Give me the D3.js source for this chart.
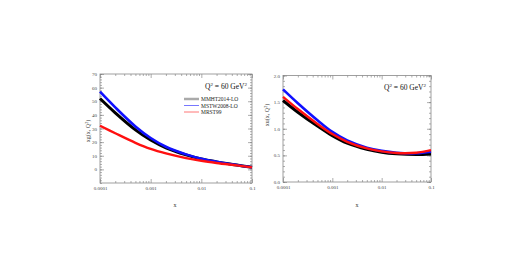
<!DOCTYPE html>
<html>
<head>
<meta charset="utf-8">
<script src="https://cdn.jsdelivr.net/npm/d3@7"></script>
<style>
  body { margin: 0; background: #fff; }
  text { font-family: "Liberation Serif", "DejaVu Serif", serif; }
</style>
</head>
<body>
<div id="chart"></div>
<script>
const width = 510;
const height = 270;

// x grid shared by all curves
const xValues = [0.0001, 0.0002, 0.0005, 0.001, 0.002, 0.005, 0.01, 0.02, 0.05, 0.1];
const xTickValues = [0.0001, 0.001, 0.01, 0.1];
const xTickLabels = ["0.0001", "0.001", "0.01", "0.1"];

// xg(x, Q^2)
const gluonMMHT = [52, 41.5, 29, 21.5, 15.8, 10.6, 7.6, 5.5, 3.2, 1.5];
const gluonMSTW = [57, 45.5, 31.5, 23, 16.6, 11, 7.8, 5.6, 3.2, 1.5];
const gluonMRST = [32, 26.5, 19.5, 15, 11.7, 8.3, 6.3, 4.7, 2.9, 1.5];
const gluonTicks = [0, 10, 20, 30, 40, 50, 60, 70];

// xu(x, Q^2)
const upMMHT = [1.53, 1.31, 1.05, 0.87, 0.73, 0.615, 0.56, 0.53, 0.515, 0.525];
const upMSTW = [1.74, 1.48, 1.16, 0.94, 0.78, 0.645, 0.585, 0.55, 0.54, 0.57];
const upMRST = [1.60, 1.37, 1.09, 0.90, 0.755, 0.63, 0.575, 0.545, 0.55, 0.60];
const upTicks = [0, 0.5, 1.0, 1.5, 2.0];

const seriesNames = ["MMHT2014-LO", "MSTW2008-LO", "MRST99"];
const seriesColors = ["#000000", "#1010ff", "#ff1010"];

const svg = d3.select("#chart")
  .append("svg")
  .attr("width", width)
  .attr("height", height);

function drawPanel(opt) {
  const x = d3.scaleLog()
    .domain([0.0001, 0.1])
    .range([opt.left, opt.right]);

  const y = d3.scaleLinear()
    .domain(opt.yDomain)
    .range([opt.bottom, opt.top]);

  const g = svg.append("g");

  // minor x ticks
  const minorX = [];
  [0.0001, 0.001, 0.01].forEach(function(d) {
    for (let k = 2; k <= 9; k++) minorX.push(d * k);
  });

  const minorY = d3.range(opt.yDomain[0], opt.yDomain[1] + 1e-9, opt.yMinor);

  function styleAxis(sel) {
    sel.select(".domain").remove();
    sel.selectAll("line").attr("stroke", "#777").attr("stroke-width", 0.6);
    sel.selectAll("text")
      .style("font-family", "Liberation Serif, serif")
      .style("font-size", "5px")
      .attr("fill", "#444");
  }

  // bottom
  g.append("g")
    .attr("transform", `translate(0, ${opt.bottom})`)
    .call(d3.axisBottom(x).tickValues(xTickValues)
      .tickFormat((d, i) => xTickLabels[i]).tickSize(-4).tickPadding(3))
    .call(styleAxis);
  g.append("g")
    .attr("transform", `translate(0, ${opt.bottom})`)
    .call(d3.axisBottom(x).tickValues(minorX).tickFormat("").tickSize(-2))
    .call(styleAxis);

  // top
  g.append("g")
    .attr("transform", `translate(0, ${opt.top})`)
    .call(d3.axisTop(x).tickValues(xTickValues).tickFormat("").tickSize(-4))
    .call(styleAxis);
  g.append("g")
    .attr("transform", `translate(0, ${opt.top})`)
    .call(d3.axisTop(x).tickValues(minorX).tickFormat("").tickSize(-2))
    .call(styleAxis);

  // left
  g.append("g")
    .attr("transform", `translate(${opt.left}, 0)`)
    .call(d3.axisLeft(y).tickValues(opt.yTicks)
      .tickFormat(opt.yFormat).tickSize(-4).tickPadding(3))
    .call(styleAxis);
  g.append("g")
    .attr("transform", `translate(${opt.left}, 0)`)
    .call(d3.axisLeft(y).tickValues(minorY).tickFormat("").tickSize(-2))
    .call(styleAxis);

  // right
  g.append("g")
    .attr("transform", `translate(${opt.right}, 0)`)
    .call(d3.axisRight(y).tickValues(opt.yTicks).tickFormat("").tickSize(-4))
    .call(styleAxis);
  g.append("g")
    .attr("transform", `translate(${opt.right}, 0)`)
    .call(d3.axisRight(y).tickValues(minorY).tickFormat("").tickSize(-2))
    .call(styleAxis);

  // frame
  g.append("rect")
    .attr("x", opt.left)
    .attr("y", opt.top)
    .attr("width", opt.right - opt.left)
    .attr("height", opt.bottom - opt.top)
    .attr("fill", "none")
    .attr("stroke", "#888")
    .attr("stroke-width", 0.8);

  const line = d3.line()
    .x(d => x(d[0]))
    .y(d => y(d[1]))
    .curve(d3.curveCatmullRom.alpha(0.5));

  opt.series.forEach(function(vals, i) {
    g.append("path")
      .datum(xValues.map((xv, j) => [xv, vals[j]]))
      .attr("fill", "none")
      .attr("stroke", seriesColors[i])
      .attr("stroke-width", opt.widths[i])
      .attr("d", line);
  });

  // axis titles
  g.append("text")
    .attr("x", opt.xLabelX)
    .attr("y", 207)
    .attr("text-anchor", "middle")
    .style("font-size", "6px")
    .attr("fill", "#333")
    .text("x");

  const yl = g.append("text")
    .attr("transform", `translate(${opt.yLabelX}, ${opt.yLabelY}) rotate(-90)`)
    .attr("text-anchor", "middle")
    .style("font-size", "6px")
    .attr("fill", "#333");
  yl.append("tspan").text(opt.yName + "(x, Q");
  yl.append("tspan").attr("dy", -2).style("font-size", "4px").text("2");
  yl.append("tspan").attr("dy", 2).text(")");

  // Q^2 label
  const q = g.append("text")
    .attr("x", opt.right - 5)
    .attr("y", opt.qY)
    .attr("text-anchor", "end")
    .style("font-size", "7.5px")
    .attr("fill", "#111");
  q.append("tspan").text("Q");
  q.append("tspan").attr("dy", -3).style("font-size", "5px").text("2");
  q.append("tspan").attr("dy", 3).text(" = 60 GeV");
  q.append("tspan").attr("dy", -3).style("font-size", "5px").text("2");

  return g;
}

const left = drawPanel({
  left: 100, right: 252, top: 74, bottom: 183,
  yDomain: [-10, 70], yTicks: gluonTicks, yMinor: 2,
  yFormat: d3.format("d"),
  series: [gluonMMHT, gluonMSTW, gluonMRST],
  widths: [3, 2.6, 2.4],
  xLabelX: 175, yLabelX: 90, yLabelY: 131, yName: "xg",
  qY: 89
});

drawPanel({
  left: 283, right: 431, top: 75.5, bottom: 182,
  yDomain: [0, 2], yTicks: upTicks, yMinor: 0.1,
  yFormat: d3.format(".1f"),
  series: [upMMHT, upMSTW, upMRST],
  widths: [3, 2.6, 2.4],
  xLabelX: 357, yLabelX: 269, yLabelY: 115, yName: "xu",
  qY: 90
});

// Legend (left panel)
const legendColors = ["#aaaaaa", "#7777ff", "#ff7777"];
const legendWidths = [2.5, 1, 1];
seriesNames.forEach(function(name, i) {
  const ly = 99 + i * 6.5;
  left.append("line")
    .attr("x1", 184)
    .attr("x2", 199)
    .attr("y1", ly)
    .attr("y2", ly)
    .attr("stroke", legendColors[i])
    .attr("stroke-width", legendWidths[i]);
  left.append("text")
    .attr("x", 201)
    .attr("y", ly + 2)
    .style("font-size", "5.5px")
    .attr("fill", "#222")
    .text(name);
});
</script>
</body>
</html>
